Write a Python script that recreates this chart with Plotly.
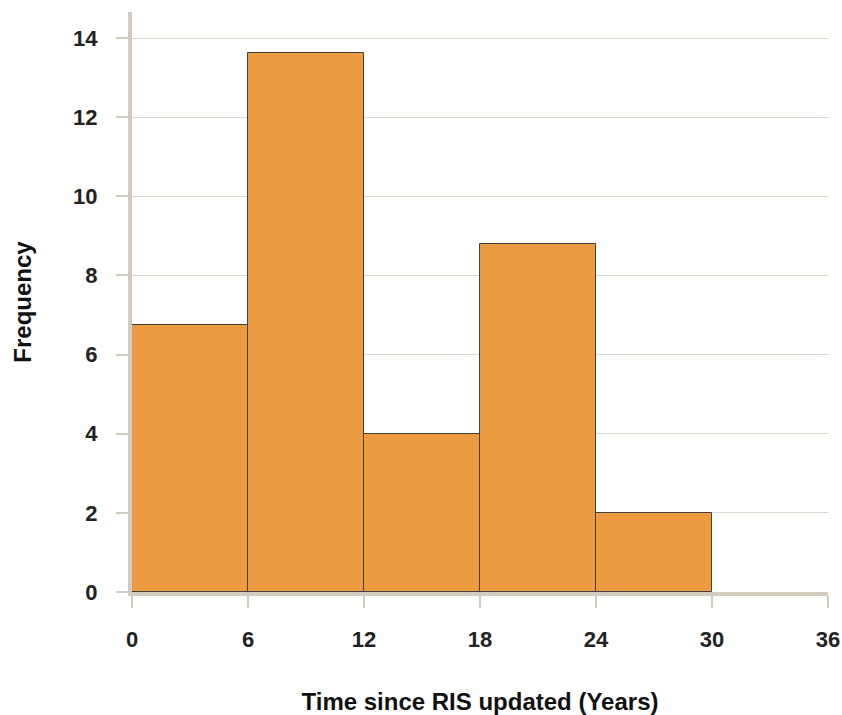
import plotly.graph_objects as go

bin_starts = [0, 6, 12, 18, 24]
bin_width = 6
frequencies = [6.75, 13.63, 4.0, 8.8, 2.0]
x_ticks = [0, 6, 12, 18, 24, 30, 36]
y_ticks = [0, 2, 4, 6, 8, 10, 12, 14]

centers = [s + bin_width / 2 for s in bin_starts]

fig = go.Figure()
fig.add_trace(go.Bar(
    x=centers, y=frequencies, width=[bin_width] * len(centers),
    marker=dict(color="#ed9b40", line=dict(color="#404040", width=1)),
    showlegend=False,
))

axis_col = "#d3cbbd"
fam = "Liberation Sans, Arial, sans-serif"
tick_font = dict(family=fam, size=22, color="#222222")
title_font = dict(family=fam, size=24, color="#111111")

fig.update_layout(
    width=842, height=715,
    margin=dict(l=132, r=14, t=12, b=123, autoexpand=False),
    plot_bgcolor="white", paper_bgcolor="white",
    bargap=0,
    font=tick_font,
    xaxis=dict(
        range=[0, 36], tickvals=x_ticks, ticktext=[f"<b>{v}</b>" for v in x_ticks],
        tickfont=tick_font, automargin=False,
        showgrid=False, zeroline=False,
        showline=True, linecolor=axis_col, linewidth=4,
        ticks="outside", ticklen=12, tickcolor=axis_col, tickwidth=1.5,
        ticklabelstandoff=13,
        title=dict(text="<b>Time since RIS updated (Years)</b>", font=title_font, standoff=44),
    ),
    yaxis=dict(
        range=[0, 14.66], tickvals=y_ticks, ticktext=[f"<b>{v}</b>" for v in y_ticks],
        tickfont=tick_font, automargin=False,
        showgrid=True, gridcolor="#ddd7cc", gridwidth=1, zeroline=False,
        showline=True, linecolor=axis_col, linewidth=4,
        ticks="outside", ticklen=12, tickcolor=axis_col, tickwidth=1.5,
        ticklabelstandoff=14,
        title=dict(text="<b>Frequency</b>", font=title_font, standoff=36),
    ),
)

fig.write_html("out.html", config={"displayModeBar": False},
               post_script="document.body.style.margin='0';")
